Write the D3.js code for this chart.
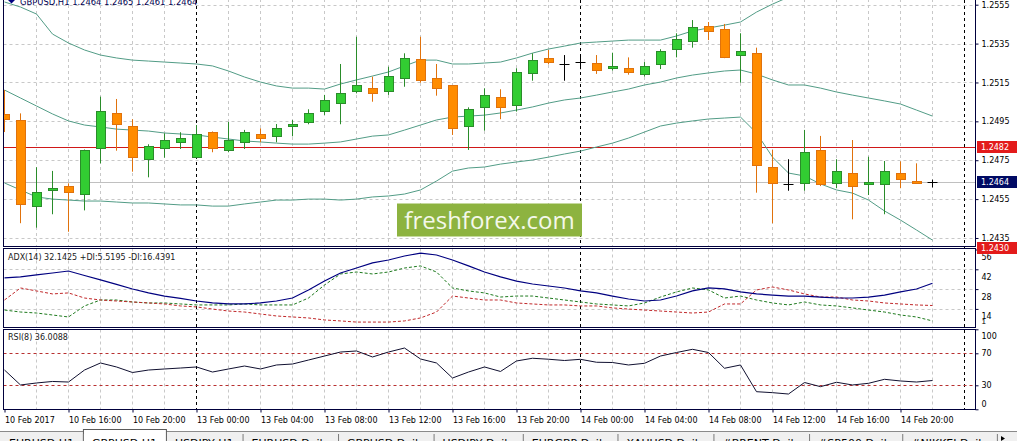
<!DOCTYPE html>
<html>
<head>
<meta charset="utf-8">
<script src="https://cdnjs.cloudflare.com/ajax/libs/d3/7.8.5/d3.min.js"></script>
<style>
  body { margin: 0; background: #fff; overflow: hidden; }
  svg { display: block; font-family: Tahoma, 'DejaVu Sans', sans-serif; }
</style>
</head>
<body>
<div id="chart"></div>
<script>
// GBPUSD H1 bars, 10 Feb 12:00 .. 14 Feb 22:00
var open = [1.24983,1.24953,1.24511,1.24595,1.24616,1.24575,1.24811,1.24991,1.24922,1.24755,1.24811,1.24842,1.24765,1.24894,1.24799,1.24842,1.24883,1.24873,1.24924,1.24945,1.25003,1.25043,1.25105,1.2512,1.25102,1.25171,1.25266,1.25171,1.25132,1.24922,1.25022,1.25074,1.2503,1.25194,1.25274,1.25245,1.25254,1.25245,1.25221,1.25223,1.25192,1.25243,1.25321,1.25362,1.25437,1.25423,1.2529,1.253,1.24714,1.24628,1.24631,1.24799,1.24631,1.24683,1.24626,1.24626,1.24683,1.24643,1.2464];
var high = [1.25111,1.24991,1.24714,1.24695,1.24631,1.24805,1.25077,1.25065,1.24961,1.24832,1.24888,1.24894,1.24931,1.24898,1.24947,1.24906,1.24914,1.24936,1.24957,1.25012,1.25086,1.25245,1.25385,1.2518,1.25231,1.253,1.25385,1.25245,1.25135,1.25022,1.2512,1.25115,1.25223,1.253,1.25317,1.25291,1.25286,1.25291,1.25303,1.25279,1.25255,1.25321,1.25403,1.25471,1.25461,1.25451,1.25403,1.25329,1.24803,1.24755,1.24906,1.24875,1.24755,1.24854,1.24768,1.24746,1.24744,1.24734,1.2465];
var low = [1.24895,1.24426,1.24403,1.24472,1.24382,1.24492,1.24734,1.24799,1.24691,1.24662,1.24763,1.24808,1.2476,1.24791,1.24791,1.24808,1.24842,1.24842,1.24873,1.24935,1.24983,1.24935,1.25094,1.25051,1.25086,1.25128,1.25149,1.25082,1.2488,1.24803,1.24902,1.24961,1.25,1.25159,1.25243,1.25159,1.25218,1.25194,1.25211,1.2519,1.2518,1.25219,1.25279,1.25329,1.25368,1.25275,1.25149,1.24583,1.24426,1.24593,1.24593,1.24617,1.24606,1.24446,1.24571,1.24472,1.24606,1.24628,1.2461];
var close = [1.24957,1.24523,1.24585,1.24606,1.24585,1.24801,1.25,1.24935,1.24765,1.2482,1.24852,1.24863,1.24883,1.24811,1.24852,1.24894,1.24863,1.24914,1.24935,1.24991,1.25055,1.25094,1.25132,1.25094,1.2518,1.25274,1.25159,1.2512,1.24914,1.25013,1.25082,1.2502,1.25202,1.25264,1.25254,1.25245,1.25254,1.25211,1.25233,1.252,1.25233,1.25308,1.25372,1.25434,1.25411,1.25279,1.2531,1.24725,1.24631,1.24628,1.24791,1.24626,1.24691,1.24614,1.24634,1.24691,1.24652,1.24631,1.2464];

// bollinger bands
var bbUpper = [1.25564,1.25538,1.25502,1.25399,1.25353,1.25317,1.25291,1.25276,1.25265,1.2526,1.25255,1.2525,1.25245,1.25235,1.25209,1.25178,1.25152,1.25132,1.25121,1.25121,1.25116,1.25142,1.25163,1.25183,1.25204,1.25235,1.25265,1.25265,1.25245,1.25245,1.2525,1.25255,1.25276,1.25301,1.25322,1.25337,1.25353,1.25358,1.25363,1.25368,1.25368,1.25368,1.25389,1.25415,1.2543,1.25445,1.25461,1.25512,1.25553,1.25589,1.25605,1.25615,1.25605,1.25589,1.25595,1.2562,1.25636,1.25625,1.25615];
var bbMiddle = [1.25111,1.2507,1.25029,1.24988,1.24952,1.24931,1.24921,1.2491,1.24905,1.249,1.2489,1.24885,1.2488,1.24869,1.24859,1.24849,1.24844,1.24838,1.24833,1.24833,1.24838,1.24844,1.24859,1.24874,1.2488,1.24905,1.24931,1.24957,1.24972,1.24977,1.24982,1.24993,1.25008,1.25024,1.25044,1.2506,1.2507,1.25085,1.25101,1.25116,1.25137,1.25152,1.25173,1.25188,1.25199,1.25209,1.25214,1.25193,1.25163,1.25137,1.25137,1.25121,1.25101,1.25085,1.2507,1.25055,1.25039,1.25008,1.24977];
var bbLower = [1.24633,1.24597,1.24561,1.2455,1.24545,1.2454,1.2454,1.24535,1.2453,1.2453,1.24525,1.2452,1.2452,1.24514,1.24514,1.24525,1.24535,1.24545,1.24545,1.2455,1.2455,1.24545,1.2455,1.24561,1.24566,1.24576,1.24597,1.24643,1.24694,1.2471,1.24715,1.2473,1.24741,1.24751,1.24766,1.24782,1.24797,1.24818,1.24838,1.24864,1.24895,1.24926,1.24941,1.24952,1.24962,1.24967,1.24972,1.2489,1.24766,1.24684,1.24669,1.24628,1.24597,1.24581,1.24545,1.24489,1.24442,1.24391,1.24339];

// ADX(14)
var adx = [35.9,36.6,38.0,39.4,40.8,37.6,34.5,31.3,28.1,25.3,23.1,21.4,19.6,18.2,17.5,17.5,18.2,19.6,21.7,27.4,33.7,39.4,42.9,46.5,48.6,51.4,53.5,52.1,48.6,44.4,40.1,36.6,33.7,31.6,30.2,28.8,26.7,25.3,23.1,21.0,19.6,20.3,23.1,26.7,28.8,28.1,26.0,24.6,23.8,23.1,23.1,22.4,21.7,21.7,22.4,23.8,26.0,28.1,32.1];
var plusDI = [13.2,11.8,11.1,9.7,8.3,16.1,20.3,20.3,18.9,18.2,18.2,17.5,16.8,16.8,16.8,17.5,16.8,16.8,16.8,21.7,30.9,38.7,40.1,38.7,40.1,42.9,44.4,40.1,28.8,26.7,25.3,22.4,23.1,23.1,21.7,20.3,18.9,17.5,16.8,16.1,18.2,22.4,26.0,28.8,27.4,21.7,23.1,20.3,18.2,16.8,18.9,16.8,16.1,14.7,13.2,11.8,9.7,8.3,5.5];
var minusDI = [20.3,28.8,26.7,24.6,25.3,21.7,20.3,19.6,18.9,18.2,17.5,16.1,15.4,13.9,12.5,11.8,10.4,9.0,8.3,7.6,6.2,5.5,4.7,4.7,4.7,5.5,7.6,11.8,23.1,21.7,20.3,20.3,18.2,17.5,16.8,16.8,16.1,16.1,14.7,13.9,13.2,12.5,11.8,11.1,11.8,17.5,17.5,27.4,29.5,27.4,24.6,22.4,22.4,20.3,19.6,18.2,17.5,16.8,16.4];

// RSI(8)
var rsi = [49.1,30.4,32.9,34.8,34.1,49.1,57.9,52.9,46.0,49.1,50.4,51.6,52.9,46.6,50.4,54.1,50.4,55.4,56.6,61.6,66.6,71.6,72.9,65.4,71.6,76.6,62.9,57.9,39.1,46.6,52.9,47.3,60.4,63.8,62.6,61.0,62.5,58.8,58.5,55.4,57.5,66.6,71.0,75.0,71.0,51.3,55.4,22.0,20.8,19.1,33.5,28.3,33.8,30.4,32.5,37.5,35.4,34.1,36.0];

var priceTicks = [1.2555,1.2535,1.2515,1.2495,1.2475,1.2455,1.2435];
var adxTicks = [56,42,28,14];
var rsiTicks = [100,70,30,0];
var rsiLevels = [70,30];
var timeLabels = ['10 Feb 2017','10 Feb 16:00','10 Feb 20:00','13 Feb 00:00','13 Feb 04:00','13 Feb 08:00','13 Feb 12:00','13 Feb 16:00','13 Feb 20:00','14 Feb 00:00','14 Feb 04:00','14 Feb 08:00','14 Feb 12:00','14 Feb 16:00','14 Feb 20:00'];
var daySeparators = [12, 36, 60];
var priceLines = [{v: 1.2482, color: '#d01818', box: '#e31b1b'}, {v: 1.2430, color: '#c00000', box: '#e31b1b'}];
var bidPrice = 1.2464;
var tabNames = ['EURUSD,H1','GBPUSD,H1','USDJPY,H1','EURUSD,Daily','GBPUSD,Daily','USDJPY,Daily','EURGBP,Daily','XAUUSD,Daily','#BRENT,Daily','#SP500,Daily','#NIKKEI,Daily'];
var activeTab = 1;

var W = 1017, H = 441;
var left = 3.5, right = 975.5;
var panels = {
    main: {top: -1, bottom: 246.5},
    adx: {top: 248.5, bottom: 327.5},
    rsi: {top: 329.5, bottom: 409.5}
};
var navy = '#00003c';

var svg = d3.select('#chart').append('svg').attr('width', W).attr('height', H);
var defs = svg.append('defs');
Object.keys(panels).forEach(function(k) {
    var p = panels[k];
    defs.append('clipPath').attr('id', 'clip-' + k).append('rect')
        .attr('x', left).attr('y', p.top).attr('width', right - left).attr('height', p.bottom - p.top);
});

var bars = d3.range(open.length);
var x = d3.scaleLinear().domain([0, 60]).range([4.5, 964.5]);
var yPrice = d3.scaleLinear().domain([1.2430, 1.2555]).range([247.7, 4.7]);
var yAdx = d3.scaleLinear().domain([1, 56]).range([327.3, 249.5]);
var yRsi = d3.scaleLinear().domain([0, 100]).range([409.3, 329.3]);

var gridIdx = d3.range(2, 60, 2).filter(function(i) { return daySeparators.indexOf(i) < 0; });

// vertical grid in every panel
Object.keys(panels).forEach(function(k) {
    var p = panels[k];
    svg.append('g').selectAll('line').data(gridIdx).enter().append('line')
        .attr('x1', function(i) { return x(i); }).attr('x2', function(i) { return x(i); })
        .attr('y1', p.top).attr('y2', p.bottom)
        .attr('stroke', '#c8c8c8').attr('stroke-dasharray', '3,3');
});

// horizontal grid
svg.append('g').selectAll('line').data(priceTicks).enter().append('line')
    .attr('x1', left).attr('x2', right)
    .attr('y1', function(d) { return Math.round(yPrice(d)) + 0.5; }).attr('y2', function(d) { return Math.round(yPrice(d)) + 0.5; })
    .attr('stroke', '#c8c8c8').attr('stroke-dasharray', '3,3');
svg.append('g').selectAll('line').data(adxTicks.slice(1)).enter().append('line')
    .attr('x1', left).attr('x2', right)
    .attr('y1', function(d) { return Math.round(yAdx(d)) + 0.5; }).attr('y2', function(d) { return Math.round(yAdx(d)) + 0.5; })
    .attr('stroke', '#c8c8c8').attr('stroke-dasharray', '3,3');

// bid line and horizontal price lines
svg.append('line').attr('x1', left).attr('x2', right)
    .attr('y1', Math.round(yPrice(bidPrice)) + 0.5).attr('y2', Math.round(yPrice(bidPrice)) + 0.5)
    .attr('stroke', '#c0c0c0');
svg.append('g').selectAll('line').data(priceLines).enter().append('line')
    .attr('x1', left).attr('x2', right)
    .attr('y1', function(d) { return Math.round(yPrice(d.v)) + 0.5; }).attr('y2', function(d) { return Math.round(yPrice(d.v)) + 0.5; })
    .attr('stroke', function(d) { return d.color; }).attr('stroke-width', 1.2);

// day separators through all panels
svg.append('g').selectAll('line').data(daySeparators).enter().append('line')
    .attr('x1', function(i) { return x(i); }).attr('x2', function(i) { return x(i); })
    .attr('y1', 0).attr('y2', panels.rsi.bottom)
    .attr('stroke', '#000').attr('stroke-dasharray', '3,3');

// watermark
var wm = svg.append('g');
wm.append('rect').attr('x', 397).attr('y', 203.5).attr('width', 185).attr('height', 33).attr('fill', '#8db340');
wm.append('text').attr('x', 489.5).attr('y', 228.5).attr('text-anchor', 'middle')
    .style('font-family', "'Open Sans', sans-serif").style('font-size', '24px').attr('fill', '#f4f8ea')
    .text('freshforex.com');

// bollinger bands
var gMain = svg.append('g').attr('clip-path', 'url(#clip-main)');
[bbUpper, bbMiddle, bbLower].forEach(function(band) {
    gMain.append('path').datum(band)
        .attr('d', d3.line().x(function(d, i) { return x(i); }).y(function(d) { return yPrice(d); }))
        .attr('fill', 'none').attr('stroke', '#529c86').attr('stroke-width', 1);
});

// candles
var isDoji = function(i) { return open[i] === close[i]; };
var candleStroke = function(i) {
    if (isDoji(i)) return '#000';
    return close[i] > open[i] ? '#2a8c2a' : '#e0720c';
};
gMain.selectAll('line.wick').data(bars).enter().append('line').attr('class', 'wick')
    .attr('x1', function(i) { return x(i); }).attr('x2', function(i) { return x(i); })
    .attr('y1', function(i) { return yPrice(high[i]); }).attr('y2', function(i) { return yPrice(low[i]); })
    .attr('stroke', candleStroke);
gMain.selectAll('rect.body').data(bars.filter(function(i) { return !isDoji(i); })).enter().append('rect').attr('class', 'body')
    .attr('x', function(i) { return x(i) - 4.5; }).attr('width', 9)
    .attr('y', function(i) { return yPrice(Math.max(open[i], close[i])); })
    .attr('height', function(i) { return Math.max(1, Math.abs(yPrice(open[i]) - yPrice(close[i]))); })
    .attr('fill', function(i) { return close[i] > open[i] ? '#32cd32' : '#ff8c00'; })
    .attr('stroke', candleStroke).attr('shape-rendering', 'crispEdges');
gMain.selectAll('line.doji').data(bars.filter(isDoji)).enter().append('line').attr('class', 'doji')
    .attr('x1', function(i) { return x(i) - 5; }).attr('x2', function(i) { return x(i) + 5; })
    .attr('y1', function(i) { return Math.round(yPrice(close[i])) + 0.5; }).attr('y2', function(i) { return Math.round(yPrice(close[i])) + 0.5; })
    .attr('stroke', '#000');

// ADX panel
var gAdx = svg.append('g').attr('clip-path', 'url(#clip-adx)');
var adxSeries = [
    {data: plusDI, color: '#1e7a1e', dash: '3,2'},
    {data: minusDI, color: '#c0282a', dash: '3,2'},
    {data: adx, color: '#000080', dash: null}
];
adxSeries.forEach(function(s) {
    gAdx.append('path').datum(s.data)
        .attr('d', d3.line().x(function(d, i) { return x(i); }).y(function(d) { return yAdx(d); }))
        .attr('fill', 'none').attr('stroke', s.color).attr('stroke-dasharray', s.dash)
        .attr('stroke-width', s.dash ? 1 : 1.2);
});

// RSI panel
var gRsi = svg.append('g').attr('clip-path', 'url(#clip-rsi)');
gRsi.selectAll('line.level').data(rsiLevels).enter().append('line').attr('class', 'level')
    .attr('x1', left).attr('x2', right)
    .attr('y1', function(d) { return Math.round(yRsi(d)) + 0.5; }).attr('y2', function(d) { return Math.round(yRsi(d)) + 0.5; })
    .attr('stroke', '#b83030').attr('stroke-dasharray', '3,3');
gRsi.append('path').datum(rsi)
    .attr('d', d3.line().x(function(d, i) { return x(i); }).y(function(d) { return yRsi(d); }))
    .attr('fill', 'none').attr('stroke', '#101030').attr('stroke-width', 1);

// panel borders
Object.keys(panels).forEach(function(k) {
    var p = panels[k];
    svg.append('rect').attr('x', left).attr('y', p.top).attr('width', right - left).attr('height', p.bottom - p.top)
        .attr('fill', 'none').attr('stroke', navy);
});

// axes
var styleAxis = function(g) {
    g.select('.domain').remove();
    g.selectAll('.tick line').attr('stroke', navy);
    g.selectAll('text').attr('fill', '#000').style('font-size', '8px').style('font-family', "Tahoma, 'DejaVu Sans', sans-serif");
};
svg.append('g').attr('transform', 'translate(' + right + ',0)')
    .call(d3.axisRight(yPrice).tickValues(priceTicks).tickSize(3).tickPadding(3).tickFormat(d3.format('.4f')))
    .call(styleAxis);

var adxAxis = svg.append('g').attr('transform', 'translate(' + right + ',0)')
    .call(d3.axisRight(yAdx).tickValues(adxTicks).tickSize(3).tickPadding(3))
    .call(styleAxis);
adxAxis.selectAll('text').attr('dy', '10px');
adxAxis.append('text').attr('x', 6).attr('y', yAdx(1) - 3.5).attr('fill', '#000')
    .style('font-size', '8px').text('1');

var rsiAxis = svg.append('g').attr('transform', 'translate(' + right + ',0)')
    .call(d3.axisRight(yRsi).tickValues(rsiTicks).tickSize(3).tickPadding(3))
    .call(styleAxis);
rsiAxis.selectAll('.tick text').attr('dy', function(d) {
    if (d === 100) return '9px';
    if (d === 0) return '-3px';
    return '0.32em';
});

svg.append('g').attr('transform', 'translate(0,' + panels.rsi.bottom + ')')
    .call(d3.axisBottom(x).tickValues(d3.range(0, 60, 4)).tickSize(3).tickPadding(5)
        .tickFormat(function(i) { return timeLabels[i / 4]; }))
    .call(styleAxis)
    .selectAll('text').attr('text-anchor', 'start').attr('dx', 0);

// price boxes on the axis
var boxes = priceLines.map(function(d) { return {v: d.v, fill: d.box}; }).concat([{v: bidPrice, fill: '#000a64'}]);
var gBox = svg.append('g').selectAll('g').data(boxes).enter().append('g')
    .attr('transform', function(d) { return 'translate(977,' + Math.round(yPrice(d.v)) + ')'; });
gBox.append('rect').attr('x', 0).attr('y', -6).attr('width', 40).attr('height', 12).attr('fill', function(d) { return d.fill; });
gBox.append('text').attr('x', 4).attr('y', 3).attr('fill', '#fff').style('font-size', '8px')
    .text(function(d) { return d.v.toFixed(4); });

// titles
svg.append('path').attr('d', 'M8,0 L15,0 L11.5,3.5 Z').attr('fill', '#000080');
svg.append('text').attr('x', 20).attr('y', 5).attr('fill', '#000050').style('font-size', '8.4px')
    .text('GBPUSD,H1  1.2464 1.2465 1.2461 1.2464');
svg.append('text').attr('x', 8).attr('y', 260).attr('fill', '#202020').style('font-size', '8px')
    .text('ADX(14) 32.1425 +DI:5.5195 -DI:16.4391');
svg.append('text').attr('x', 8).attr('y', 340).attr('fill', '#202020').style('font-size', '8px')
    .text('RSI(8) 36.0088');

// tab bar
var tabBar = svg.append('g');
tabBar.append('rect').attr('x', 0).attr('y', 431).attr('width', W).attr('height', 10).attr('fill', '#f0f0f0');
tabBar.append('line').attr('x1', 0).attr('x2', W).attr('y1', 431.5).attr('y2', 431.5).attr('stroke', '#8a8a8a');
var tx = 0;
tabNames.forEach(function(name, k) {
    var t = tabBar.append('text').attr('y', 447).attr('fill', '#000').style('font-size', '11px').text(name);
    var w = t.node().getComputedTextLength() + 18;
    if (k === activeTab) {
        tabBar.insert('rect', 'text').attr('x', tx + 0.5).attr('y', 429.5).attr('width', w).attr('height', 14)
            .attr('fill', '#fff').attr('stroke', '#5a5a5a');
    } else {
        tabBar.append('line').attr('x1', tx + w + 0.5).attr('x2', tx + w + 0.5).attr('y1', 434).attr('y2', 441).attr('stroke', '#7a7a7a');
    }
    t.attr('x', tx + 9);
    tx += w;
});
tabBar.append('path').attr('d', 'M1001,436 L1005,438.5 L1001,441 Z').attr('fill', '#000');
</script>
</body>
</html>
